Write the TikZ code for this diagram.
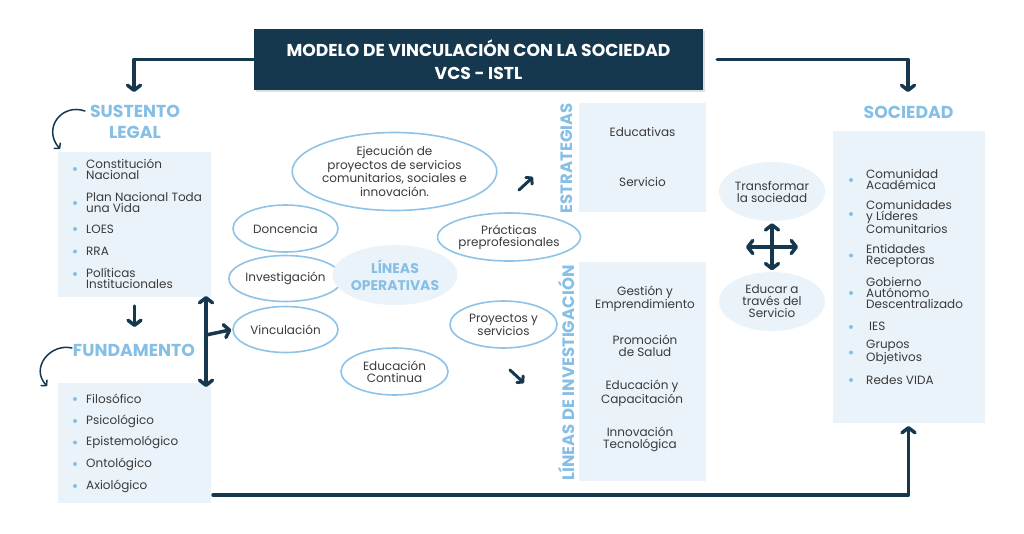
\documentclass[tikz,border=0pt]{standalone}
\usepackage{fontspec}
\setmainfont{Poppins}
\usetikzlibrary{arrows.meta,shapes.geometric,shadows}
\definecolor{navy}{HTML}{15384F}
\definecolor{lblue}{HTML}{86BFE6}
\definecolor{pale}{HTML}{EBF3FA}
\definecolor{ellc}{HTML}{8EC3E8}
\definecolor{txt}{HTML}{3A3A3A}
\tikzset{
  tipbig/.tip={Straight Barb[round,length=5pt,width=13pt]},
  tipsm/.tip={Straight Barb[round,length=4pt,width=9pt]},
  conn/.style={draw=navy,line width=3.5pt,line cap=round,line join=round,-tipbig},
  dconn/.style={draw=navy,line width=3.5pt,line cap=round,line join=round,tipbig-tipbig},
  sconn/.style={draw=navy,line width=3pt,line cap=round,-tipsm},
  curv/.style={draw=navy,line width=1.5pt,line cap=round,-{Straight Barb[round,length=3.5pt,width=8pt]}},
  hdr/.style={fill=navy,text=white,align=center,font=\bfseries\fontsize{17.2}{23}\selectfont,
    minimum width=449pt,minimum height=61pt,inner sep=0pt,
    drop shadow={opacity=0.25,shadow xshift=2pt,shadow yshift=-2pt}},
  panel/.style={fill=pale,draw=none,inner sep=0pt},
  head/.style={text=lblue,align=center,font=\bfseries\fontsize{17.3}{21}\selectfont,inner sep=0pt},
  vhead/.style={text=lblue,font=\bfseries\fontsize{16.5}{16.5}\selectfont,rotate=90,inner sep=0pt},
  item/.style={anchor=west,text=txt,align=left,font=\fontsize{12}{11}\selectfont,inner sep=0pt},
  ctext/.style={text=txt,align=center,font=\fontsize{12}{12}\selectfont,inner sep=0pt},
  dot/.style={circle,fill=lblue,inner sep=0pt,minimum size=4pt},
  oval/.style={ellipse,draw=ellc,line width=1.6pt,fill=white,text=txt,align=center,
    font=\fontsize{12}{13.5}\selectfont,inner sep=0pt},
  ovalf/.style={ellipse,fill=pale,draw=none,text=txt,align=center,
    font=\fontsize{12}{12}\selectfont,inner sep=0pt},
}
\begin{document}
\begin{tikzpicture}[x=1pt,y=-1pt]
\useasboundingbox[fill=white] (0,0) rectangle (1024,533);

% header
\node[hdr] (hdr) at (478.5,59.5) {MODELO DE VINCULACIÓN CON LA SOCIEDAD\\VCS - ISTL};
\coordinate (lt) at (134,92);
\coordinate (rt) at (908,92);
\draw[conn] (hdr.west) -| (lt);
\draw[conn,shorten <=14pt] (hdr.east) -| (rt);

% left column
\node[head] (sust) at (135,122) {SUSTENTO\\LEGAL};
\coordinate (c1s) at (85,111);
\coordinate (c1e) at (60,149);
\draw[curv] (c1s) .. controls (62,103) and (42,128) .. (c1e);

\node[panel,minimum width=153pt,minimum height=145pt] (p1) at (134.5,224.5) {};
\node[dot] (b11) at (75,169) {};
\node[item] (i11) at (86,169.5) {Constitución\\Nacional};
\node[dot] (b12) at (75,203) {};
\node[item] (i12) at (86,202.5) {Plan Nacional Toda\\una Vida};
\node[dot] (b13) at (75,229) {};
\node[item] (i13) at (86,229) {LOES};
\node[dot] (b14) at (75,251.5) {};
\node[item] (i14) at (86,251.5) {RRA};
\node[dot] (b15) at (75,274) {};
\node[item] (i15) at (86,278.5) {Políticas\\Institucionales};

\coordinate (d1s) at (134.5,306);
\coordinate (d1e) at (134.5,327);
\draw[conn] (d1s) -- (d1e);

\node[head] (fund) at (134,350) {FUNDAMENTO};
\coordinate (c2s) at (72,348);
\coordinate (c2e) at (47,386);
\draw[curv] (c2s) .. controls (50,343) and (30,368) .. (c2e);

\node[panel,minimum width=153pt,minimum height=120pt] (p2) at (134.5,443) {};
\node[dot] (b21) at (75,399) {};
\node[item] (i21) at (86,399) {Filosófico};
\node[dot] (b22) at (75,421) {};
\node[item] (i22) at (86,421) {Psicológico};
\node[dot] (b23) at (75,442.5) {};
\node[item] (i23) at (86,442.5) {Epistemológico};
\node[dot] (b24) at (75,464) {};
\node[item] (i24) at (86,464) {Ontológico};
\node[dot] (b25) at (75,486) {};
\node[item] (i25) at (86,486) {Axiológico};

% double arrow and branch
\coordinate (va) at (206,296);
\coordinate (vb) at (206,387);
\coordinate (vm) at (206,335);
\draw[dconn] (va) -- (vb);

% ellipses
\node[oval,minimum width=175pt,minimum height=78pt] (ejec) at (394.5,171.5)
  {Ejecución de\\proyectos de servicios\\comunitarios, sociales e\\innovación.};
\node[oval,minimum width=105pt,minimum height=47pt] (donc) at (285.5,228.5) {Doncencia};
\node[oval,minimum width=105pt,minimum height=46pt] (inv) at (285.5,278.5) {Investigación};
\node[oval,minimum width=105pt,minimum height=46pt] (vinc) at (285.5,329.5) {Vinculación};
\node[ovalf,minimum width=106pt,minimum height=60pt,text=lblue,
  font=\bfseries\fontsize{14}{16.5}\selectfont] (linop) at (395,275) {LÍNEAS\\OPERATIVAS};
\node[oval,minimum width=107pt,minimum height=47pt,font=\fontsize{12}{12}\selectfont] (educ) at (394.5,371.5) {Educación\\Continua};
\node[oval,minimum width=134pt,minimum height=48pt,font=\fontsize{12}{12}\selectfont] (prac) at (509,237) {Prácticas\\preprofesionales};
\node[oval,minimum width=107pt,minimum height=47pt,font=\fontsize{12}{12}\selectfont] (proy) at (503.5,324.5) {Proyectos y\\servicios};

\draw[conn,shorten >=1pt] (vm) -- (vinc.west);

% small diagonal arrows
\coordinate (ne1) at (519,190);
\coordinate (ne2) at (533,177);
\draw[sconn] (ne1) -- (ne2);
\coordinate (se1) at (510,370);
\coordinate (se2) at (524,383);
\draw[sconn] (se1) -- (se2);

% strategies
\node[vhead] (esth) at (566.5,158) {ESTRATEGIAS};
\node[panel,minimum width=127pt,minimum height=109pt] (pest) at (642.5,157.5) {};
\node[ctext] (s1) at (642.5,132) {Educativas};
\node[ctext] (s2) at (642.5,182) {Servicio};

\node[vhead] (invh) at (566.5,373) {LÍNEAS DE INVESTIGACIÓN};
\node[panel,minimum width=127pt,minimum height=219pt] (pinv) at (642.5,371.5) {};
\node[ctext] (l1) at (645,298.5) {Gestión y\\Emprendimiento};
\node[ctext] (l2) at (645,346) {Promoción\\de Salud};
\node[ctext] (l3) at (642,393.5) {Educación y\\Capacitación};
\node[ctext] (l4) at (640,439) {Innovación\\Tecnológica};

% transform / educate
\node[ovalf,minimum width=106pt,minimum height=59pt] (trans) at (772,191.5) {Transformar\\la sociedad};
\node[ovalf,minimum width=106pt,minimum height=59pt] (educar) at (772,301.5) {Educar a\\través del\\Servicio};
\draw[dconn,shorten <=2pt,shorten >=1.5pt] (trans.south) -- (educar.north);
\coordinate (hx1) at (746,247);
\coordinate (hx2) at (798,247);
\draw[dconn] (hx1) -- (hx2);

% society
\node[head] (soc) at (908.5,112) {SOCIEDAD};
\node[panel,minimum width=152pt,minimum height=292pt] (psoc) at (909,277) {};
\node[dot] (b31) at (851,180) {};
\node[item] (i31) at (866,179) {Comunidad\\Académica};
\node[dot] (b32) at (851,214) {};
\node[item] (i32) at (866,217) {Comunidades\\y Líderes\\Comunitarios};
\node[dot] (b33) at (851,255.5) {};
\node[item] (i33) at (866,255.5) {Entidades\\Receptoras};
\node[dot] (b34) at (851,293) {};
\node[item] (i34) at (866,293) {Gobierno\\Autónomo\\Descentralizado};
\node[dot] (b35) at (851,327) {};
\node[item] (i35) at (869,326) {IES};
\node[dot] (b36) at (851,352.5) {};
\node[item] (i36) at (866,352.5) {Grupos\\Objetivos};
\node[dot] (b37) at (851,380) {};
\node[item] (i37) at (866,380) {Redes VIDA};

% bottom connector
\coordinate (bs) at (213,495);
\coordinate (be) at (908.5,426);
\draw[conn] (bs) -| (be);
\end{tikzpicture}
\end{document}
